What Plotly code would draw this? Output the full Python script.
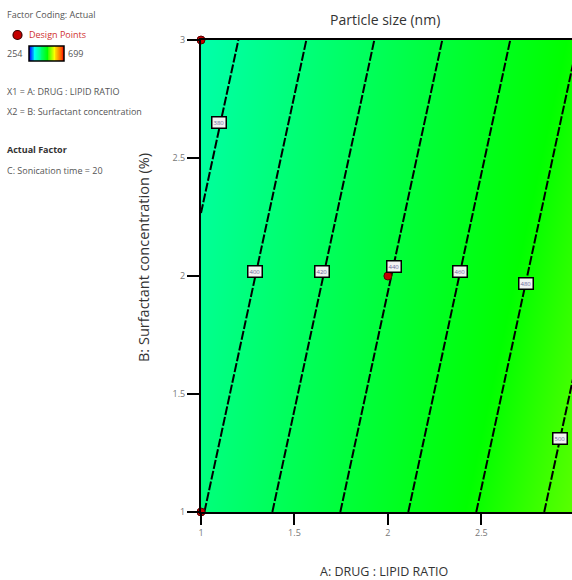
import plotly.graph_objects as go

W, H = 572, 580

# ---- data ----
drug_lipid = [1, 2, 3]                 # A: DRUG : LIPID RATIO
surfactant = [1, 2, 3]                 # B: Surfactant concentration (%)
particle_size = [                      # rows follow surfactant, cols follow drug_lipid
    [399, 454, 509],
    [384, 439, 494],
    [369, 424, 479],
]
contour_start, contour_end, contour_step = 380, 500, 20
label_levels = [380, 400, 420, 440, 460, 480, 500]
label_A = [1.096, 1.29, 1.65, 2.03, 2.385, 2.74, 2.92]
label_B = [2.65, 2.02, 2.02, 2.04, 2.02, 1.97, 1.31]
design_A = [1, 2, 1]
design_B = [3, 2, 1]
z_min, z_max = 254, 699
x_ticks = [1, 1.5, 2, 2.5, 3]
y_ticks = [1, 1.5, 2, 2.5, 3]

colorscale = [
    [0.0, "rgb(0,0,255)"],
    [0.139, "rgb(0,255,255)"],
    [0.5, "rgb(0,255,0)"],
    [0.703, "rgb(255,255,0)"],
    [1.0, "rgb(255,0,0)"],
]

def px_x(p):
    return p / W

def px_y(p):
    return 1 - p / H

fig = go.Figure()

fig.add_trace(go.Heatmap(
    x=drug_lipid, y=surfactant, z=particle_size,
    zmin=z_min, zmax=z_max, colorscale=colorscale, zsmooth="best",
    showscale=False, hoverinfo="skip"))

fig.add_trace(go.Contour(
    x=drug_lipid, y=surfactant, z=particle_size,
    contours=dict(start=contour_start, end=contour_end, size=contour_step,
                  coloring="none", showlabels=False),
    line=dict(color="black", width=2, dash="9px,2px"),
    showscale=False, hoverinfo="skip"))

fig.add_trace(go.Scatter(
    x=design_A, y=design_B, mode="markers",
    marker=dict(color="#c40000", size=8, line=dict(color="#5a0000", width=1)),
    cliponaxis=False, hoverinfo="skip"))

# mini colour legend bar
bar_vals = [z_min + (z_max - z_min) * i / 20 for i in range(21)]
fig.add_trace(go.Heatmap(
    x=bar_vals, y=[0], z=[bar_vals],
    zmin=z_min, zmax=z_max, colorscale=colorscale, zsmooth="best",
    showscale=False, xaxis="x2", yaxis="y2", hoverinfo="skip"))

font_main = "Open Sans, Noto Sans, sans-serif"

fig.update_layout(
    width=W, height=H,
    margin=dict(l=0, r=0, t=0, b=0, autoexpand=False),
    paper_bgcolor="white", plot_bgcolor="white",
    showlegend=False,
    font=dict(family=font_main, color="#555"),
    xaxis=dict(domain=[px_x(201), 1], range=[1, 2.985], tickvals=x_ticks,
               ticktext=["1", "1.5", "2", "2.5", "3"],
               ticks="outside", ticklen=11, tickwidth=2, tickcolor="black",
               showline=True, linecolor="black", linewidth=2, mirror=True,
               showgrid=False, zeroline=False, automargin=False,
               tickfont=dict(size=9, color="#777")),
    yaxis=dict(domain=[px_y(512), px_y(40)], range=[1, 3], tickvals=y_ticks,
               ticktext=["1", "1.5", "2", "2.5", "3"],
               ticks="outside", ticklen=12, tickwidth=2, tickcolor="black",
               showline=True, linecolor="black", linewidth=2,
               showgrid=False, zeroline=False, automargin=False,
               tickfont=dict(size=9, color="#777")),
    xaxis2=dict(domain=[px_x(29), px_x(64)], visible=False, anchor="y2",
                range=[z_min, z_max], automargin=False),
    yaxis2=dict(domain=[px_y(61), px_y(46)], visible=False, anchor="x2",
                range=[-0.5, 0.5], automargin=False),
)

shapes = [
    dict(type="rect", xref="paper", yref="paper",
         x0=px_x(29), x1=px_x(64), y0=px_y(61), y1=px_y(46),
         line=dict(color="black", width=1.5)),
    dict(type="circle", xref="paper", yref="paper",
         x0=px_x(13), x1=px_x(22), y0=px_y(39.5), y1=px_y(30.5),
         fillcolor="#c40000", line=dict(color="#3a0000", width=1.2)),
]
fig.update_layout(shapes=shapes)

ann = []
# contour labels
for lv, a, b in zip(label_levels, label_A, label_B):
    ann.append(dict(x=a, y=b, xref="x", yref="y", text=str(lv), showarrow=False,
                    xanchor="center", yanchor="middle",
                    font=dict(size=6, color="#6a6a9a"),
                    bgcolor="#f2f2f2", bordercolor="black", borderwidth=1.5,
                    borderpad=1))

small = dict(size=9, color="#555", family=font_main)
left_texts = [
    ("Factor Coding: Actual", 5, 15, small),
    ("Design Points", 27, 35, dict(size=9, color="#d03030", family=font_main)),
    ("254", 5, 54, small),
    ("699", 66, 54, small),
    ("X1 = A: DRUG : LIPID RATIO", 5, 92, small),
    ("X2 = B: Surfactant concentration", 5, 111, small),
    ("<b>Actual Factor</b>", 5, 150, dict(size=9, color="#333", family=font_main)),
    ("C: Sonication time = 20", 5, 170, small),
]
for t, x, y, f in left_texts:
    ann.append(dict(x=px_x(x), y=px_y(y), xref="paper", yref="paper", text=t,
                    showarrow=False, xanchor="left", yanchor="middle", font=f))

ann.append(dict(x=px_x(385), y=px_y(20), xref="paper", yref="paper",
                text="Particle size (nm)", showarrow=False,
                xanchor="center", yanchor="middle",
                font=dict(size=14, color="#333", family=font_main)))
ann.append(dict(x=px_x(384), y=px_y(571), xref="paper", yref="paper",
                text="A: DRUG : LIPID RATIO", showarrow=False,
                xanchor="center", yanchor="middle",
                font=dict(size=12.5, color="#333", family=font_main)))
ann.append(dict(x=px_x(143), y=px_y(258), xref="paper", yref="paper",
                text="B: Surfactant concentration (%)", showarrow=False,
                xanchor="center", yanchor="middle", textangle=-90,
                font=dict(size=14.5, color="#333", family=font_main)))
fig.update_layout(annotations=ann)

fig.write_html(
    "out.html",
    config={"displayModeBar": False},
    post_script="document.body.style.margin='0';"
                "document.body.style.overflow='hidden';"
                "document.documentElement.style.overflow='hidden';",
)
